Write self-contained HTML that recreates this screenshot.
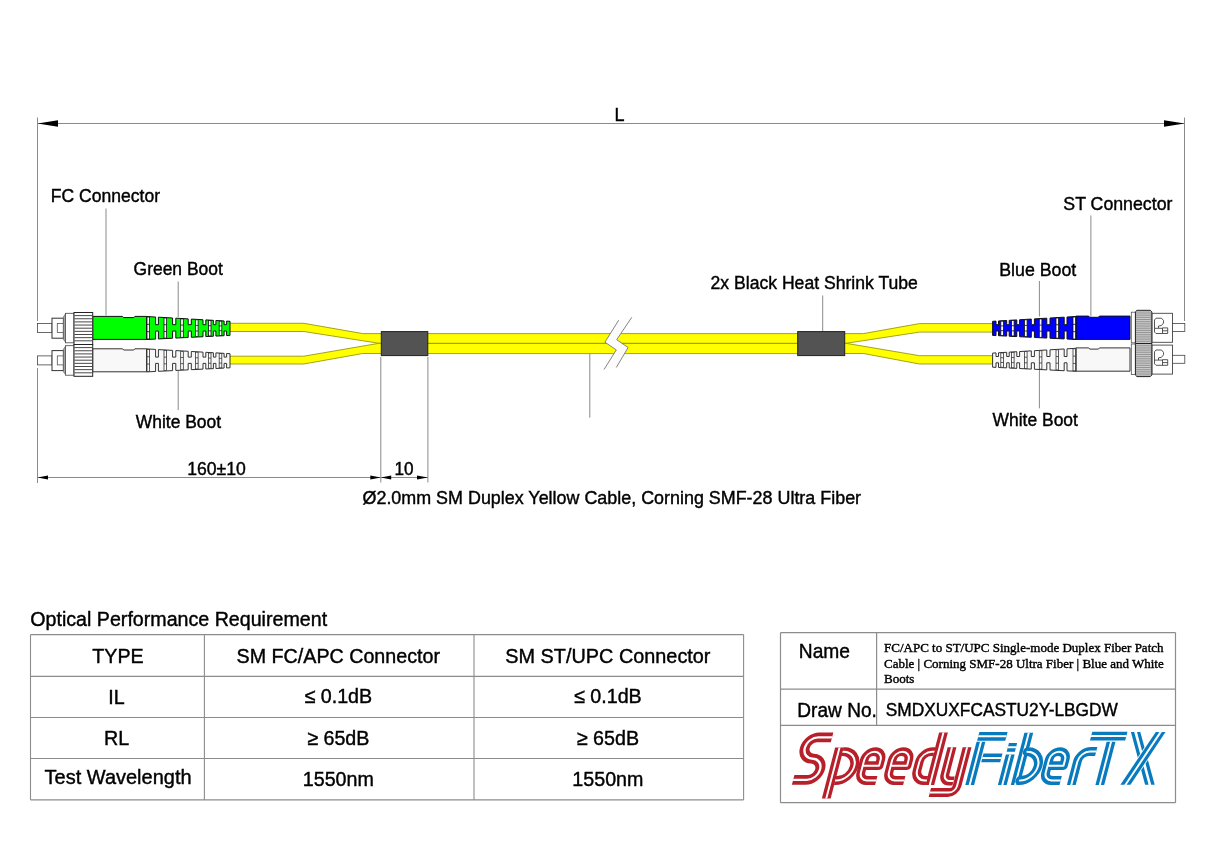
<!DOCTYPE html>
<html><head><meta charset="utf-8"><title>Fiber Patch Cable Drawing</title>
<style>
html,body{margin:0;padding:0;background:#fff;}
body{width:1214px;height:859px;overflow:hidden;font-family:"Liberation Sans",sans-serif;}
svg{position:absolute;left:0;top:0;display:block;will-change:transform;}
text{font-family:"Liberation Sans",sans-serif;stroke:#000;stroke-width:0.4px;}
</style></head><body>
<svg width="1214" height="859" viewBox="0 0 1214 859">
<rect x="0" y="0" width="1214" height="859" fill="#fff"/>
<line x1="37.5" y1="123.5" x2="1184.5" y2="123.5" stroke="#8a8a8a" stroke-width="1"/>
<polygon points="37.5,123.5 58,120.2 58,126.8" fill="#000"/>
<polygon points="1184.5,123.5 1164,120.2 1164,126.8" fill="#000"/>
<line x1="37.5" y1="117.5" x2="37.5" y2="321" stroke="#8a8a8a" stroke-width="1"/>
<line x1="1184.5" y1="117.5" x2="1184.5" y2="321" stroke="#8a8a8a" stroke-width="1"/>
<line x1="37.5" y1="368" x2="37.5" y2="483" stroke="#8a8a8a" stroke-width="1"/>
<line x1="37.5" y1="477.5" x2="428" y2="477.5" stroke="#8a8a8a" stroke-width="1"/>
<polygon points="37.5,477.5 48,475.5 48,479.5" fill="#000"/>
<polygon points="380.8,477.5 370.3,475.5 370.3,479.5" fill="#000"/>
<polygon points="380.8,477.5 391.2,475.5 391.2,479.5" fill="#000"/>
<polygon points="427.9,477.5 417,475.5 417,479.5" fill="#000"/>
<line x1="380.8" y1="357" x2="380.8" y2="482.5" stroke="#8a8a8a" stroke-width="1"/>
<line x1="427.9" y1="357" x2="427.9" y2="482.5" stroke="#8a8a8a" stroke-width="1"/>
<line x1="106" y1="208.5" x2="106" y2="315.5" stroke="#8a8a8a" stroke-width="1"/>
<line x1="178.2" y1="281.5" x2="178.2" y2="317" stroke="#8a8a8a" stroke-width="1"/>
<line x1="178.2" y1="371" x2="178.2" y2="410" stroke="#8a8a8a" stroke-width="1"/>
<line x1="589.8" y1="354" x2="589.8" y2="417.7" stroke="#8a8a8a" stroke-width="1"/>
<line x1="822.7" y1="295.5" x2="822.7" y2="331.5" stroke="#8a8a8a" stroke-width="1"/>
<line x1="1039.4" y1="281" x2="1039.4" y2="316.5" stroke="#8a8a8a" stroke-width="1"/>
<line x1="1039.4" y1="365" x2="1039.4" y2="408.3" stroke="#8a8a8a" stroke-width="1"/>
<line x1="1090.9" y1="215.5" x2="1090.9" y2="316.5" stroke="#8a8a8a" stroke-width="1"/>
<polygon points="229,323.3 303.8,323.3 362.7,333.6 382,333.6 382,343.3 379,343.3 303.8,331.5 229,331.5" fill="#ffff00" stroke="#8c8c00" stroke-width="0.8" stroke-linejoin="miter"/>
<polygon points="229,356.2 303.8,356.2 379,343.3 382,343.3 382,353.5 362.7,353.5 303.8,364 229,364" fill="#ffff00" stroke="#8c8c00" stroke-width="0.8" stroke-linejoin="miter"/>
<polygon points="427,333.6 798,333.6 798,343.4 427,343.4" fill="#ffff00" stroke="#8c8c00" stroke-width="0.8" stroke-linejoin="miter"/>
<polygon points="427,343.4 798,343.4 798,353.6 427,353.6" fill="#ffff00" stroke="#8c8c00" stroke-width="0.8" stroke-linejoin="miter"/>
<polygon points="618.7,320.2 604.9,342.2 616.3,349.9 604,369.5 616.3,367.5 628.1,347.5 616.7,339.7 631.8,317.3" fill="#fcfcfc"/>
<polyline points="618.7,320.2 604.9,342.2 616.3,349.9 604,369.5" fill="none" stroke="#777" stroke-width="0.9"/>
<polyline points="631.8,317.3 616.7,339.7 628.1,347.5 616.3,367.5" fill="none" stroke="#777" stroke-width="0.9"/>
<polygon points="844,333.6 863.4,333.6 919.5,323.6 994,323.6 994,332.1 919.5,332.1 846,343.3 844,343.3" fill="#ffff00" stroke="#8c8c00" stroke-width="0.8" stroke-linejoin="miter"/>
<polygon points="844,343.3 846,343.3 919.5,355.7 994,355.7 994,364 919.5,364 863.4,353.5 844,353.5" fill="#ffff00" stroke="#8c8c00" stroke-width="0.8" stroke-linejoin="miter"/>
<rect x="381.3" y="331.6" width="46.5" height="24" fill="#535353" stroke="#222" stroke-width="1"/>
<rect x="797.7" y="331.6" width="47" height="24" fill="#535353" stroke="#222" stroke-width="1"/>
<rect x="37.5" y="323.5" width="14.5" height="9" fill="#fff" stroke="#444" stroke-width="0.8"/>
<rect x="52" y="318.2" width="11.4" height="20" fill="#fff" stroke="#333" stroke-width="1"/>
<rect x="57.3" y="323.5" width="6" height="9" fill="#fff" stroke="#555" stroke-width="0.8"/>
<polygon points="63.4,316.8 65.4,314 65.4,342 63.4,339.4" fill="#aaa" stroke="#555" stroke-width="0.6"/>
<rect x="65.4" y="313.3" width="8.6" height="29.5" fill="#fff" stroke="#444" stroke-width="0.8"/>
<path d="M92.7,316.4 H122.6 L123.6,317.6 H133.8 L134.8,316.4 H146.7 V339.4 H92.7 Z" fill="#00ff00" stroke="#111" stroke-width="1"/>
<rect x="37.5" y="355.9" width="14.5" height="9" fill="#fff" stroke="#444" stroke-width="0.8"/>
<rect x="52" y="350.6" width="11.4" height="20" fill="#fff" stroke="#333" stroke-width="1"/>
<rect x="57.3" y="355.9" width="6" height="9" fill="#fff" stroke="#555" stroke-width="0.8"/>
<polygon points="63.4,349.2 65.4,346.4 65.4,374.4 63.4,371.8" fill="#aaa" stroke="#555" stroke-width="0.6"/>
<rect x="65.4" y="345.7" width="8.6" height="29.5" fill="#fff" stroke="#444" stroke-width="0.8"/>
<path d="M92.7,348.8 H122.6 L123.6,350 H133.8 L134.8,348.8 H146.7 V371.8 H92.7 Z" fill="#f8f8f8" stroke="#333" stroke-width="1"/>
<rect x="74" y="312.5" width="18.7" height="32" fill="#fff" stroke="#222" stroke-width="1"/>
<line x1="74.5" y1="315.6" x2="92.2" y2="315.6" stroke="#333" stroke-width="0.9"/>
<line x1="74.5" y1="318.75" x2="92.2" y2="318.75" stroke="#333" stroke-width="0.9"/>
<line x1="74.5" y1="321.9" x2="92.2" y2="321.9" stroke="#333" stroke-width="0.9"/>
<line x1="74.5" y1="325.05" x2="92.2" y2="325.05" stroke="#333" stroke-width="0.9"/>
<line x1="74.5" y1="328.2" x2="92.2" y2="328.2" stroke="#333" stroke-width="0.9"/>
<line x1="74.5" y1="331.35" x2="92.2" y2="331.35" stroke="#333" stroke-width="0.9"/>
<line x1="74.5" y1="334.5" x2="92.2" y2="334.5" stroke="#333" stroke-width="0.9"/>
<line x1="74.5" y1="337.65" x2="92.2" y2="337.65" stroke="#333" stroke-width="0.9"/>
<line x1="74.5" y1="340.8" x2="92.2" y2="340.8" stroke="#333" stroke-width="0.9"/>
<rect x="74" y="344.5" width="18.7" height="31.8" fill="#fff" stroke="#222" stroke-width="1"/>
<line x1="74.5" y1="347.6" x2="92.2" y2="347.6" stroke="#333" stroke-width="0.9"/>
<line x1="74.5" y1="350.75" x2="92.2" y2="350.75" stroke="#333" stroke-width="0.9"/>
<line x1="74.5" y1="353.9" x2="92.2" y2="353.9" stroke="#333" stroke-width="0.9"/>
<line x1="74.5" y1="357.05" x2="92.2" y2="357.05" stroke="#333" stroke-width="0.9"/>
<line x1="74.5" y1="360.2" x2="92.2" y2="360.2" stroke="#333" stroke-width="0.9"/>
<line x1="74.5" y1="363.35" x2="92.2" y2="363.35" stroke="#333" stroke-width="0.9"/>
<line x1="74.5" y1="366.5" x2="92.2" y2="366.5" stroke="#333" stroke-width="0.9"/>
<line x1="74.5" y1="369.65" x2="92.2" y2="369.65" stroke="#333" stroke-width="0.9"/>
<line x1="74.5" y1="372.8" x2="92.2" y2="372.8" stroke="#333" stroke-width="0.9"/>
<polygon points="146.6,316.5 155.6,317.02 155.6,324.7 158.4,324.7 158.4,317.18 172.6,318 172.6,324.7 175.8,324.7 175.8,318.18 188.2,318.89 188.2,324.7 191.3,324.7 191.3,319.07 203,319.75 203,324.7 205.8,324.7 205.8,319.91 213.4,320.34 213.4,324.7 215.9,324.7 215.9,320.49 224.1,320.96 224.1,324.7 226.6,324.7 226.6,321.1 230,321.3 230,335.4 226.6,335.57 226.6,331 224.1,331 224.1,335.69 215.9,336.09 215.9,331 213.4,331 213.4,336.22 205.8,336.59 205.8,331 203,331 203,336.73 191.3,337.3 191.3,331 188.2,331 188.2,337.45 175.8,338.06 175.8,331 172.6,331 172.6,338.22 158.4,338.92 158.4,331 155.6,331 155.6,339.06 146.6,339.5" fill="#00ff00" stroke="#111" stroke-width="1"/>
<rect x="147" y="317.02" width="2.6" height="21.96" fill="#fff" stroke="#111" stroke-width="0.8"/>
<line x1="147" y1="324.34" x2="149.6" y2="324.34" stroke="#111" stroke-width="0.8"/>
<line x1="147" y1="331.66" x2="149.6" y2="331.66" stroke="#111" stroke-width="0.8"/>
<rect x="164" y="318" width="2.6" height="20.14" fill="#fff" stroke="#111" stroke-width="0.8"/>
<line x1="164" y1="324.72" x2="166.6" y2="324.72" stroke="#111" stroke-width="0.8"/>
<line x1="164" y1="331.43" x2="166.6" y2="331.43" stroke="#111" stroke-width="0.8"/>
<rect x="180.7" y="318.96" width="2.6" height="18.36" fill="#fff" stroke="#111" stroke-width="0.8"/>
<line x1="180.7" y1="325.08" x2="183.3" y2="325.08" stroke="#111" stroke-width="0.8"/>
<line x1="180.7" y1="331.2" x2="183.3" y2="331.2" stroke="#111" stroke-width="0.8"/>
<rect x="195.5" y="319.81" width="2.6" height="16.78" fill="#fff" stroke="#111" stroke-width="0.8"/>
<line x1="195.5" y1="325.41" x2="198.1" y2="325.41" stroke="#111" stroke-width="0.8"/>
<line x1="195.5" y1="331" x2="198.1" y2="331" stroke="#111" stroke-width="0.8"/>
<rect x="208.5" y="320.56" width="2.5" height="15.39" fill="#fff" stroke="#111" stroke-width="0.8"/>
<line x1="208.5" y1="325.69" x2="211" y2="325.69" stroke="#111" stroke-width="0.8"/>
<line x1="208.5" y1="330.83" x2="211" y2="330.83" stroke="#111" stroke-width="0.8"/>
<rect x="219.2" y="321.18" width="2.6" height="14.25" fill="#fff" stroke="#111" stroke-width="0.8"/>
<line x1="219.2" y1="325.93" x2="221.8" y2="325.93" stroke="#111" stroke-width="0.8"/>
<line x1="219.2" y1="330.68" x2="221.8" y2="330.68" stroke="#111" stroke-width="0.8"/>
<polygon points="146.6,348.9 155.6,349.42 155.6,357.1 158.4,357.1 158.4,349.58 172.6,350.4 172.6,357.1 175.8,357.1 175.8,350.58 188.2,351.29 188.2,357.1 191.3,357.1 191.3,351.47 203,352.15 203,357.1 205.8,357.1 205.8,352.31 213.4,352.74 213.4,357.1 215.9,357.1 215.9,352.89 224.1,353.36 224.1,357.1 226.6,357.1 226.6,353.5 230,353.7 230,367.8 226.6,367.97 226.6,363.4 224.1,363.4 224.1,368.09 215.9,368.49 215.9,363.4 213.4,363.4 213.4,368.62 205.8,368.99 205.8,363.4 203,363.4 203,369.13 191.3,369.7 191.3,363.4 188.2,363.4 188.2,369.85 175.8,370.46 175.8,363.4 172.6,363.4 172.6,370.62 158.4,371.32 158.4,363.4 155.6,363.4 155.6,371.46 146.6,371.9" fill="#f8f8f8" stroke="#333" stroke-width="1"/>
<rect x="147" y="349.42" width="2.6" height="21.96" fill="#fff" stroke="#333" stroke-width="0.8"/>
<line x1="147" y1="356.74" x2="149.6" y2="356.74" stroke="#333" stroke-width="0.8"/>
<line x1="147" y1="364.06" x2="149.6" y2="364.06" stroke="#333" stroke-width="0.8"/>
<rect x="164" y="350.4" width="2.6" height="20.14" fill="#fff" stroke="#333" stroke-width="0.8"/>
<line x1="164" y1="357.12" x2="166.6" y2="357.12" stroke="#333" stroke-width="0.8"/>
<line x1="164" y1="363.83" x2="166.6" y2="363.83" stroke="#333" stroke-width="0.8"/>
<rect x="180.7" y="351.36" width="2.6" height="18.36" fill="#fff" stroke="#333" stroke-width="0.8"/>
<line x1="180.7" y1="357.48" x2="183.3" y2="357.48" stroke="#333" stroke-width="0.8"/>
<line x1="180.7" y1="363.6" x2="183.3" y2="363.6" stroke="#333" stroke-width="0.8"/>
<rect x="195.5" y="352.21" width="2.6" height="16.78" fill="#fff" stroke="#333" stroke-width="0.8"/>
<line x1="195.5" y1="357.81" x2="198.1" y2="357.81" stroke="#333" stroke-width="0.8"/>
<line x1="195.5" y1="363.4" x2="198.1" y2="363.4" stroke="#333" stroke-width="0.8"/>
<rect x="208.5" y="352.96" width="2.5" height="15.39" fill="#fff" stroke="#333" stroke-width="0.8"/>
<line x1="208.5" y1="358.09" x2="211" y2="358.09" stroke="#333" stroke-width="0.8"/>
<line x1="208.5" y1="363.23" x2="211" y2="363.23" stroke="#333" stroke-width="0.8"/>
<rect x="219.2" y="353.58" width="2.6" height="14.25" fill="#fff" stroke="#333" stroke-width="0.8"/>
<line x1="219.2" y1="358.33" x2="221.8" y2="358.33" stroke="#333" stroke-width="0.8"/>
<line x1="219.2" y1="363.08" x2="221.8" y2="363.08" stroke="#333" stroke-width="0.8"/>
<path d="M1075.9,316.1 H1088.7 L1089.7,317.3 H1098.4 L1099.4,316.1 H1130 V339.4 H1075.9 Z" fill="#0000ff" stroke="#111" stroke-width="1"/>
<rect x="1131.3" y="312.2" width="4.2" height="30.6" fill="#fff" stroke="#555" stroke-width="0.8"/>
<rect x="1151.9" y="313.3" width="20.6" height="29" fill="#fff" stroke="#444" stroke-width="0.9"/>
<rect x="1172.5" y="323.5" width="12.3" height="8" fill="#fff" stroke="#444" stroke-width="0.8"/>
<path d="M1156,333.5 L1154.5,332 L1154.5,320 L1156,318.2 L1161.5,318.2 L1163.5,320.5 L1163.5,323 L1161.5,325.5 L1158.5,326 L1158.5,328.3 L1162.5,328.3 M1156,333.5 L1167.7,333.5 L1167.7,327.9 L1162.5,327.9 L1162.5,333.5 M1154.5,328.3 L1158.5,328.3 M1162.5,330.8 L1167.7,330.8" fill="none" stroke="#444" stroke-width="0.9"/>
<path d="M1075.9,347.9 H1088.7 L1089.7,349.1 H1098.4 L1099.4,347.9 H1130 V371.2 H1075.9 Z" fill="#f8f8f8" stroke="#333" stroke-width="1"/>
<rect x="1131.3" y="344" width="4.2" height="30.6" fill="#fff" stroke="#555" stroke-width="0.8"/>
<rect x="1151.9" y="345.1" width="20.6" height="29" fill="#fff" stroke="#444" stroke-width="0.9"/>
<rect x="1172.5" y="355.3" width="12.3" height="8" fill="#fff" stroke="#444" stroke-width="0.8"/>
<path d="M1156,365.3 L1154.5,363.8 L1154.5,351.8 L1156,350 L1161.5,350 L1163.5,352.3 L1163.5,354.8 L1161.5,357.3 L1158.5,357.8 L1158.5,360.1 L1162.5,360.1 M1156,365.3 L1167.7,365.3 L1167.7,359.7 L1162.5,359.7 L1162.5,365.3 M1154.5,360.1 L1158.5,360.1 M1162.5,362.6 L1167.7,362.6" fill="none" stroke="#444" stroke-width="0.9"/>
<path d="M1135.4,343.5 L1135.4,311.8 L1137,310.3 L1150.3,310.3 L1151.8,311.8 L1151.8,343.5 Z" fill="#d2d2d2" stroke="#222" stroke-width="1"/>
<line x1="1136" y1="312.1" x2="1151.2" y2="312.1" stroke="#6a6a6a" stroke-width="0.6"/>
<line x1="1136" y1="313.95" x2="1151.2" y2="313.95" stroke="#6a6a6a" stroke-width="0.6"/>
<line x1="1136" y1="315.8" x2="1151.2" y2="315.8" stroke="#6a6a6a" stroke-width="0.6"/>
<line x1="1136" y1="317.65" x2="1151.2" y2="317.65" stroke="#6a6a6a" stroke-width="0.6"/>
<line x1="1136" y1="319.5" x2="1151.2" y2="319.5" stroke="#6a6a6a" stroke-width="0.6"/>
<line x1="1136" y1="321.35" x2="1151.2" y2="321.35" stroke="#6a6a6a" stroke-width="0.6"/>
<line x1="1136" y1="323.2" x2="1151.2" y2="323.2" stroke="#6a6a6a" stroke-width="0.6"/>
<line x1="1136" y1="325.05" x2="1151.2" y2="325.05" stroke="#6a6a6a" stroke-width="0.6"/>
<line x1="1136" y1="326.9" x2="1151.2" y2="326.9" stroke="#6a6a6a" stroke-width="0.6"/>
<line x1="1136" y1="328.75" x2="1151.2" y2="328.75" stroke="#6a6a6a" stroke-width="0.6"/>
<line x1="1136" y1="330.6" x2="1151.2" y2="330.6" stroke="#6a6a6a" stroke-width="0.6"/>
<line x1="1136" y1="332.45" x2="1151.2" y2="332.45" stroke="#6a6a6a" stroke-width="0.6"/>
<line x1="1136" y1="334.3" x2="1151.2" y2="334.3" stroke="#6a6a6a" stroke-width="0.6"/>
<line x1="1136" y1="336.15" x2="1151.2" y2="336.15" stroke="#6a6a6a" stroke-width="0.6"/>
<line x1="1136" y1="338" x2="1151.2" y2="338" stroke="#6a6a6a" stroke-width="0.6"/>
<line x1="1136" y1="339.85" x2="1151.2" y2="339.85" stroke="#6a6a6a" stroke-width="0.6"/>
<line x1="1136" y1="341.7" x2="1151.2" y2="341.7" stroke="#6a6a6a" stroke-width="0.6"/>
<path d="M1135.4,343.5 L1135.4,375.1 L1137,376.6 L1150.3,376.6 L1151.8,375.1 L1151.8,343.5 Z" fill="#d2d2d2" stroke="#222" stroke-width="1"/>
<line x1="1136" y1="345.3" x2="1151.2" y2="345.3" stroke="#6a6a6a" stroke-width="0.6"/>
<line x1="1136" y1="347.15" x2="1151.2" y2="347.15" stroke="#6a6a6a" stroke-width="0.6"/>
<line x1="1136" y1="349" x2="1151.2" y2="349" stroke="#6a6a6a" stroke-width="0.6"/>
<line x1="1136" y1="350.85" x2="1151.2" y2="350.85" stroke="#6a6a6a" stroke-width="0.6"/>
<line x1="1136" y1="352.7" x2="1151.2" y2="352.7" stroke="#6a6a6a" stroke-width="0.6"/>
<line x1="1136" y1="354.55" x2="1151.2" y2="354.55" stroke="#6a6a6a" stroke-width="0.6"/>
<line x1="1136" y1="356.4" x2="1151.2" y2="356.4" stroke="#6a6a6a" stroke-width="0.6"/>
<line x1="1136" y1="358.25" x2="1151.2" y2="358.25" stroke="#6a6a6a" stroke-width="0.6"/>
<line x1="1136" y1="360.1" x2="1151.2" y2="360.1" stroke="#6a6a6a" stroke-width="0.6"/>
<line x1="1136" y1="361.95" x2="1151.2" y2="361.95" stroke="#6a6a6a" stroke-width="0.6"/>
<line x1="1136" y1="363.8" x2="1151.2" y2="363.8" stroke="#6a6a6a" stroke-width="0.6"/>
<line x1="1136" y1="365.65" x2="1151.2" y2="365.65" stroke="#6a6a6a" stroke-width="0.6"/>
<line x1="1136" y1="367.5" x2="1151.2" y2="367.5" stroke="#6a6a6a" stroke-width="0.6"/>
<line x1="1136" y1="369.35" x2="1151.2" y2="369.35" stroke="#6a6a6a" stroke-width="0.6"/>
<line x1="1136" y1="371.2" x2="1151.2" y2="371.2" stroke="#6a6a6a" stroke-width="0.6"/>
<line x1="1136" y1="373.05" x2="1151.2" y2="373.05" stroke="#6a6a6a" stroke-width="0.6"/>
<line x1="1136" y1="374.9" x2="1151.2" y2="374.9" stroke="#6a6a6a" stroke-width="0.6"/>
<polygon points="1076,316.5 1067,317.02 1067,324.7 1064.2,324.7 1064.2,317.18 1050,318 1050,324.7 1046.8,324.7 1046.8,318.18 1034.4,318.89 1034.4,324.7 1031.3,324.7 1031.3,319.07 1019.6,319.75 1019.6,324.7 1016.8,324.7 1016.8,319.91 1009.2,320.34 1009.2,324.7 1006.7,324.7 1006.7,320.49 998.5,320.96 998.5,324.7 996,324.7 996,321.1 992.6,321.3 992.6,335.4 996,335.57 996,331 998.5,331 998.5,335.69 1006.7,336.09 1006.7,331 1009.2,331 1009.2,336.22 1016.8,336.59 1016.8,331 1019.6,331 1019.6,336.73 1031.3,337.3 1031.3,331 1034.4,331 1034.4,337.45 1046.8,338.06 1046.8,331 1050,331 1050,338.22 1064.2,338.92 1064.2,331 1067,331 1067,339.06 1076,339.5" fill="#0000ff" stroke="#111" stroke-width="1"/>
<rect x="1073" y="317.02" width="2.6" height="21.96" fill="#fff" stroke="#111" stroke-width="0.8"/>
<line x1="1073" y1="324.34" x2="1075.6" y2="324.34" stroke="#111" stroke-width="0.8"/>
<line x1="1073" y1="331.66" x2="1075.6" y2="331.66" stroke="#111" stroke-width="0.8"/>
<rect x="1056" y="318" width="2.6" height="20.14" fill="#fff" stroke="#111" stroke-width="0.8"/>
<line x1="1056" y1="324.72" x2="1058.6" y2="324.72" stroke="#111" stroke-width="0.8"/>
<line x1="1056" y1="331.43" x2="1058.6" y2="331.43" stroke="#111" stroke-width="0.8"/>
<rect x="1039.3" y="318.96" width="2.6" height="18.36" fill="#fff" stroke="#111" stroke-width="0.8"/>
<line x1="1039.3" y1="325.08" x2="1041.9" y2="325.08" stroke="#111" stroke-width="0.8"/>
<line x1="1039.3" y1="331.2" x2="1041.9" y2="331.2" stroke="#111" stroke-width="0.8"/>
<rect x="1024.5" y="319.81" width="2.6" height="16.78" fill="#fff" stroke="#111" stroke-width="0.8"/>
<line x1="1024.5" y1="325.41" x2="1027.1" y2="325.41" stroke="#111" stroke-width="0.8"/>
<line x1="1024.5" y1="331" x2="1027.1" y2="331" stroke="#111" stroke-width="0.8"/>
<rect x="1011.6" y="320.56" width="2.5" height="15.39" fill="#fff" stroke="#111" stroke-width="0.8"/>
<line x1="1011.6" y1="325.69" x2="1014.1" y2="325.69" stroke="#111" stroke-width="0.8"/>
<line x1="1011.6" y1="330.83" x2="1014.1" y2="330.83" stroke="#111" stroke-width="0.8"/>
<rect x="1000.8" y="321.18" width="2.6" height="14.25" fill="#fff" stroke="#111" stroke-width="0.8"/>
<line x1="1000.8" y1="325.93" x2="1003.4" y2="325.93" stroke="#111" stroke-width="0.8"/>
<line x1="1000.8" y1="330.68" x2="1003.4" y2="330.68" stroke="#111" stroke-width="0.8"/>
<polygon points="1076,348.3 1067,348.82 1067,356.5 1064.2,356.5 1064.2,348.98 1050,349.8 1050,356.5 1046.8,356.5 1046.8,349.98 1034.4,350.69 1034.4,356.5 1031.3,356.5 1031.3,350.87 1019.6,351.55 1019.6,356.5 1016.8,356.5 1016.8,351.71 1009.2,352.14 1009.2,356.5 1006.7,356.5 1006.7,352.29 998.5,352.76 998.5,356.5 996,356.5 996,352.9 992.6,353.1 992.6,367.2 996,367.37 996,362.8 998.5,362.8 998.5,367.49 1006.7,367.89 1006.7,362.8 1009.2,362.8 1009.2,368.02 1016.8,368.39 1016.8,362.8 1019.6,362.8 1019.6,368.53 1031.3,369.1 1031.3,362.8 1034.4,362.8 1034.4,369.25 1046.8,369.86 1046.8,362.8 1050,362.8 1050,370.02 1064.2,370.72 1064.2,362.8 1067,362.8 1067,370.86 1076,371.3" fill="#f8f8f8" stroke="#333" stroke-width="1"/>
<rect x="1073" y="348.82" width="2.6" height="21.96" fill="#fff" stroke="#333" stroke-width="0.8"/>
<line x1="1073" y1="356.14" x2="1075.6" y2="356.14" stroke="#333" stroke-width="0.8"/>
<line x1="1073" y1="363.46" x2="1075.6" y2="363.46" stroke="#333" stroke-width="0.8"/>
<rect x="1056" y="349.8" width="2.6" height="20.14" fill="#fff" stroke="#333" stroke-width="0.8"/>
<line x1="1056" y1="356.52" x2="1058.6" y2="356.52" stroke="#333" stroke-width="0.8"/>
<line x1="1056" y1="363.23" x2="1058.6" y2="363.23" stroke="#333" stroke-width="0.8"/>
<rect x="1039.3" y="350.76" width="2.6" height="18.36" fill="#fff" stroke="#333" stroke-width="0.8"/>
<line x1="1039.3" y1="356.88" x2="1041.9" y2="356.88" stroke="#333" stroke-width="0.8"/>
<line x1="1039.3" y1="363" x2="1041.9" y2="363" stroke="#333" stroke-width="0.8"/>
<rect x="1024.5" y="351.61" width="2.6" height="16.78" fill="#fff" stroke="#333" stroke-width="0.8"/>
<line x1="1024.5" y1="357.21" x2="1027.1" y2="357.21" stroke="#333" stroke-width="0.8"/>
<line x1="1024.5" y1="362.8" x2="1027.1" y2="362.8" stroke="#333" stroke-width="0.8"/>
<rect x="1011.6" y="352.36" width="2.5" height="15.39" fill="#fff" stroke="#333" stroke-width="0.8"/>
<line x1="1011.6" y1="357.49" x2="1014.1" y2="357.49" stroke="#333" stroke-width="0.8"/>
<line x1="1011.6" y1="362.63" x2="1014.1" y2="362.63" stroke="#333" stroke-width="0.8"/>
<rect x="1000.8" y="352.98" width="2.6" height="14.25" fill="#fff" stroke="#333" stroke-width="0.8"/>
<line x1="1000.8" y1="357.73" x2="1003.4" y2="357.73" stroke="#333" stroke-width="0.8"/>
<line x1="1000.8" y1="362.48" x2="1003.4" y2="362.48" stroke="#333" stroke-width="0.8"/>
<text transform="translate(614.4,120.8) scale(1,1.045)" font-size="18" >L</text>
<text transform="translate(50.8,202.2) scale(1,1.045)" font-size="17.55" >FC Connector</text>
<text transform="translate(133.6,274.7) scale(1,1.045)" font-size="17.45" >Green Boot</text>
<text transform="translate(135.8,428.2) scale(1,1.045)" font-size="17.45" >White Boot</text>
<text transform="translate(710.5,288.7) scale(1,1.045)" font-size="17.6" >2x Black Heat Shrink Tube</text>
<text transform="translate(1063.3,209.8) scale(1,1.045)" font-size="17.75" >ST Connector</text>
<text transform="translate(999.2,276.4) scale(1,1.045)" font-size="17.8" >Blue Boot</text>
<text transform="translate(992.6,425.7) scale(1,1.045)" font-size="17.45" >White Boot</text>
<text transform="translate(187.2,475.3) scale(1,1.045)" font-size="17.6" >160±10</text>
<text transform="translate(394.5,474.6) scale(1,1.045)" font-size="17.2" >10</text>
<text transform="translate(362.5,503.8) scale(1,1.045)" font-size="17.92" >Ø2.0mm SM Duplex Yellow Cable, Corning SMF-28 Ultra Fiber</text>
<text transform="translate(30.3,626.4) scale(1,1.045)" font-size="19.65" >Optical Performance Requirement</text>
<line x1="30.5" y1="634.6" x2="743.6" y2="634.6" stroke="#8c8c8c" stroke-width="1.1"/>
<line x1="30.5" y1="676.4" x2="743.6" y2="676.4" stroke="#8c8c8c" stroke-width="1.1"/>
<line x1="30.5" y1="717.5" x2="743.6" y2="717.5" stroke="#8c8c8c" stroke-width="1.1"/>
<line x1="30.5" y1="758.5" x2="743.6" y2="758.5" stroke="#8c8c8c" stroke-width="1.1"/>
<line x1="30.5" y1="799.9" x2="743.6" y2="799.9" stroke="#8c8c8c" stroke-width="1.1"/>
<line x1="30.5" y1="634.6" x2="30.5" y2="799.9" stroke="#8c8c8c" stroke-width="1.1"/>
<line x1="204.4" y1="634.6" x2="204.4" y2="799.9" stroke="#8c8c8c" stroke-width="1.1"/>
<line x1="474" y1="634.6" x2="474" y2="799.9" stroke="#8c8c8c" stroke-width="1.1"/>
<line x1="743.6" y1="634.6" x2="743.6" y2="799.9" stroke="#8c8c8c" stroke-width="1.1"/>
<text transform="translate(118.05,662.6) scale(1,1.045)" font-size="19.7" text-anchor="middle">TYPE</text>
<text transform="translate(338.3,662.6) scale(1,1.045)" font-size="19.7" text-anchor="middle">SM FC/APC Connector</text>
<text transform="translate(607.9,662.6) scale(1,1.045)" font-size="19.85" text-anchor="middle">SM ST/UPC Connector</text>
<text transform="translate(116.55,703.6) scale(1,1.045)" font-size="19.7" text-anchor="middle">IL</text>
<text transform="translate(338.3,703.4) scale(1,1.045)" font-size="19.7" text-anchor="middle">≤ 0.1dB</text>
<text transform="translate(607.9,703.4) scale(1,1.045)" font-size="19.7" text-anchor="middle">≤ 0.1dB</text>
<text transform="translate(116.55,744.8) scale(1,1.045)" font-size="19.7" text-anchor="middle">RL</text>
<text transform="translate(338.3,745) scale(1,1.045)" font-size="19.7" text-anchor="middle">≥ 65dB</text>
<text transform="translate(607.9,745) scale(1,1.045)" font-size="19.7" text-anchor="middle">≥ 65dB</text>
<text transform="translate(118.05,784.2) scale(1,1.045)" font-size="20.0" text-anchor="middle">Test Wavelength</text>
<text transform="translate(338.3,786) scale(1,1.045)" font-size="19.7" text-anchor="middle">1550nm</text>
<text transform="translate(607.9,786) scale(1,1.045)" font-size="19.7" text-anchor="middle">1550nm</text>
<line x1="780.5" y1="632.6" x2="1175.5" y2="632.6" stroke="#8c8c8c" stroke-width="1.2"/>
<line x1="780.5" y1="689.2" x2="1175.5" y2="689.2" stroke="#8c8c8c" stroke-width="1.2"/>
<line x1="780.5" y1="725.4" x2="1175.5" y2="725.4" stroke="#8c8c8c" stroke-width="1.2"/>
<line x1="780.5" y1="802.7" x2="1175.5" y2="802.7" stroke="#8c8c8c" stroke-width="1.2"/>
<line x1="780.5" y1="632.6" x2="780.5" y2="802.7" stroke="#8c8c8c" stroke-width="1.2"/>
<line x1="1175.5" y1="632.6" x2="1175.5" y2="802.7" stroke="#8c8c8c" stroke-width="1.2"/>
<line x1="876.6" y1="632.6" x2="876.6" y2="725.4" stroke="#8c8c8c" stroke-width="1.2"/>
<text transform="translate(798.8,657.6) scale(1,1.045)" font-size="19.2" >Name</text>
<text transform="translate(797.3,716.5) scale(1,1.045)" font-size="19.1" >Draw No.</text>
<text transform="translate(885.8,716.3) scale(1,1.045)" font-size="17.32" >SMDXUXFCASTU2Y-LBGDW</text>
<text x="884" y="651.8" font-size="13" style="font-family:'Liberation Serif',serif">FC/APC to ST/UPC Single-mode Duplex Fiber Patch</text>
<text x="884" y="667.5" font-size="13" style="font-family:'Liberation Serif',serif">Cable | Corning SMF-28 Ultra Fiber | Blue and White</text>
<text x="884" y="683.1" font-size="13" style="font-family:'Liberation Serif',serif">Boots</text>
<g transform="translate(790,785) skewX(-14.57)" fill="none" stroke-linejoin="round">
<path d="M29.7,-47.6 H15.8 A10.6,10.6 0 0 0 5.2,-37 A10.6,10.6 0 0 0 15.8,-26.4 H15.4 A10.6,10.6 0 0 1 26,-15.8 A10.6,10.6 0 0 1 15.4,-5.2 H1.8" stroke="#b71f2a" stroke-width="9.8"/>
<path d="M29.7,-47.6 H15.8 A10.6,10.6 0 0 0 5.2,-37 A10.6,10.6 0 0 0 15.8,-26.4 H15.4 A10.6,10.6 0 0 1 26,-15.8 A10.6,10.6 0 0 1 15.4,-5.2 H1.8" stroke="#fff" stroke-width="2.3"/>
<path d="M39.8,13.6 V-37.6" stroke="#b71f2a" stroke-width="8.8"/>
<path d="M39.8,13.6 V-37.6" stroke="#fff" stroke-width="2.0"/>
<path d="M43.9,-33.3 H45 A14.4,14.4 0 0 1 59.4,-18.9 A14.4,14.4 0 0 1 45,-4.5 H43.9" stroke="#b71f2a" stroke-width="8.8"/>
<path d="M43.9,-33.3 H45 A14.4,14.4 0 0 1 59.4,-18.9 A14.4,14.4 0 0 1 45,-4.5 H43.9" stroke="#fff" stroke-width="2.0"/>
<path d="M67.7,-19.3 H84.1 V-25.1 A8.199999999999996,8.199999999999996 0 0 0 75.9,-33.3 A8.199999999999996,8.199999999999996 0 0 0 67.7,-25.1 V-12.5 A8.0,8.0 0 0 0 75.7,-4.5 H85.1" stroke="#b71f2a" stroke-width="8.8"/>
<path d="M67.7,-19.3 H84.1 V-25.1 A8.199999999999996,8.199999999999996 0 0 0 75.9,-33.3 A8.199999999999996,8.199999999999996 0 0 0 67.7,-25.1 V-12.5 A8.0,8.0 0 0 0 75.7,-4.5 H85.1" stroke="#fff" stroke-width="2.0"/>
<path d="M95.7,-19.3 H112.1 V-25.1 A8.199999999999996,8.199999999999996 0 0 0 103.9,-33.3 A8.199999999999996,8.199999999999996 0 0 0 95.7,-25.1 V-12.5 A8.0,8.0 0 0 0 103.7,-4.5 H113.1" stroke="#b71f2a" stroke-width="8.8"/>
<path d="M95.7,-19.3 H112.1 V-25.1 A8.199999999999996,8.199999999999996 0 0 0 103.9,-33.3 A8.199999999999996,8.199999999999996 0 0 0 95.7,-25.1 V-12.5 A8.0,8.0 0 0 0 103.7,-4.5 H113.1" stroke="#fff" stroke-width="2.0"/>
<path d="M139.8,-52.6 V0" stroke="#b71f2a" stroke-width="8.8"/>
<path d="M139.8,-52.6 V0" stroke="#fff" stroke-width="2.0"/>
<path d="M135.7,-33.3 H133.3 A10,10 0 0 0 123.3,-23.3 V-14.5 A10,10 0 0 0 133.3,-4.5 H135.7" stroke="#b71f2a" stroke-width="8.8"/>
<path d="M135.7,-33.3 H133.3 A10,10 0 0 0 123.3,-23.3 V-14.5 A10,10 0 0 0 133.3,-4.5 H135.7" stroke="#fff" stroke-width="2.0"/>
<path d="M152.2,-37.7 V-10.5 A6.5,6.5 0 0 0 158.7,-4 H162.5" stroke="#b71f2a" stroke-width="8.8"/>
<path d="M152.2,-37.7 V-10.5 A6.5,6.5 0 0 0 158.7,-4 H162.5" stroke="#fff" stroke-width="2.0"/>
<path d="M167.3,-37.7 V1 A6.5,6.5 0 0 1 160.8,7.5 H141.8" stroke="#b71f2a" stroke-width="8.8"/>
<path d="M167.3,-37.7 V1 A6.5,6.5 0 0 1 160.8,7.5 H141.8" stroke="#fff" stroke-width="2.0"/>
<path d="M179.7,-43.3 V0" stroke="#087bbf" stroke-width="8.8"/>
<path d="M179.7,-43.3 V0" stroke="#fff" stroke-width="2.0"/>
<path d="M175.6,-48.7 H203.8" stroke="#087bbf" stroke-width="8.8"/>
<path d="M175.6,-48.7 H203.8" stroke="#fff" stroke-width="2.0"/>
<path d="M185.3,-27.1 H204.3" stroke="#087bbf" stroke-width="8.8"/>
<path d="M185.3,-27.1 H204.3" stroke="#fff" stroke-width="2.0"/>
<path d="M212.3,-30.6 V0" stroke="#087bbf" stroke-width="8.8"/>
<path d="M212.3,-30.6 V0" stroke="#fff" stroke-width="2.0"/>
<path d="M208,-37.7 H216.2" stroke="#087bbf" stroke-width="8.8"/>
<path d="M208,-37.7 H216.2" stroke="#fff" stroke-width="2.0"/>
<path d="M225.2,-52.3 V0" stroke="#087bbf" stroke-width="8.8"/>
<path d="M225.2,-52.3 V0" stroke="#fff" stroke-width="2.0"/>
<path d="M229.3,-33.3 H228.7 A14.4,14.4 0 0 1 243.1,-18.9 A14.4,14.4 0 0 1 228.7,-4.5 H229.3" stroke="#087bbf" stroke-width="8.8"/>
<path d="M229.3,-33.3 H228.7 A14.4,14.4 0 0 1 243.1,-18.9 A14.4,14.4 0 0 1 228.7,-4.5 H229.3" stroke="#fff" stroke-width="2.0"/>
<path d="M252.5,-19.3 H268.5 V-25.299999999999997 A8.0,8.0 0 0 0 260.5,-33.3 A8.0,8.0 0 0 0 252.5,-25.299999999999997 V-12.5 A8.0,8.0 0 0 0 260.5,-4.5 H269.5" stroke="#087bbf" stroke-width="8.8"/>
<path d="M252.5,-19.3 H268.5 V-25.299999999999997 A8.0,8.0 0 0 0 260.5,-33.3 A8.0,8.0 0 0 0 252.5,-25.299999999999997 V-12.5 A8.0,8.0 0 0 0 260.5,-4.5 H269.5" stroke="#fff" stroke-width="2.0"/>
<path d="M281.3,0 V-23.5 A10,10 0 0 1 291.3,-33.5 H297.5" stroke="#087bbf" stroke-width="8.8"/>
<path d="M281.3,0 V-23.5 A10,10 0 0 1 291.3,-33.5 H297.5" stroke="#fff" stroke-width="2.0"/>
<path d="M288.4,-48.9 H323.6" stroke="#087bbf" stroke-width="8.8"/>
<path d="M288.4,-48.9 H323.6" stroke="#fff" stroke-width="2.0"/>
<path d="M309.8,-43.3 V0" stroke="#087bbf" stroke-width="8.8"/>
<path d="M309.8,-43.3 V0" stroke="#fff" stroke-width="2.0"/>
</g>
<polygon points="1130.9,732.0 1134.2,732.0 1148.6,784.8 1145.1,784.8" fill="#087bbf"/>
<polygon points="1137.0,732.0 1140.3,732.0 1154.7,784.8 1151.2,784.8" fill="#087bbf"/>
<polygon points="1154.8,732.0 1166.5,732.0 1131.5,784.8 1119.4,784.8" fill="#fff"/>
<polygon points="1155.8,732.0 1159.4,732.0 1124.4,784.8 1120.4,784.8" fill="#087bbf"/>
<polygon points="1161.9,732.0 1165.5,732.0 1130.5,784.8 1126.6,784.8" fill="#087bbf"/>
</svg>
</body></html>
